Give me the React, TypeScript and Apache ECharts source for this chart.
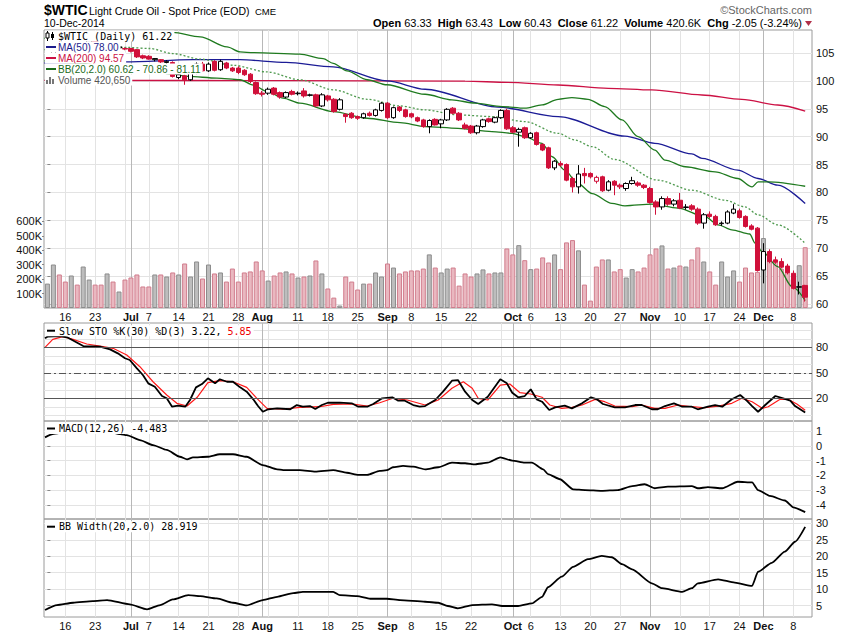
import React, { useEffect, useRef } from "react";
import * as echarts from "echarts";

// ---------- DATA ----------
const days = ["Jun 11","Jun 12","Jun 13","Jun 16","Jun 17","Jun 18","Jun 19","Jun 20","Jun 23","Jun 24","Jun 25","Jun 26","Jun 27","Jun 30","Jul 1","Jul 2","Jul 3","Jul 7","Jul 8","Jul 9","Jul 10","Jul 11","Jul 14","Jul 15","Jul 16","Jul 17","Jul 18","Jul 21","Jul 22","Jul 23","Jul 24","Jul 25","Jul 28","Jul 29","Jul 30","Jul 31","Aug 1","Aug 4","Aug 5","Aug 6","Aug 7","Aug 8","Aug 11","Aug 12","Aug 13","Aug 14","Aug 15","Aug 18","Aug 19","Aug 20","Aug 21","Aug 22","Aug 25","Aug 26","Aug 27","Aug 28","Aug 29","Sep 2","Sep 3","Sep 4","Sep 5","Sep 8","Sep 9","Sep 10","Sep 11","Sep 12","Sep 15","Sep 16","Sep 17","Sep 18","Sep 19","Sep 22","Sep 23","Sep 24","Sep 25","Sep 26","Sep 29","Sep 30","Oct 1","Oct 2","Oct 3","Oct 6","Oct 7","Oct 8","Oct 9","Oct 10","Oct 13","Oct 14","Oct 15","Oct 16","Oct 17","Oct 20","Oct 21","Oct 22","Oct 23","Oct 24","Oct 27","Oct 28","Oct 29","Oct 30","Oct 31","Nov 3","Nov 4","Nov 5","Nov 6","Nov 7","Nov 10","Nov 11","Nov 12","Nov 13","Nov 14","Nov 17","Nov 18","Nov 19","Nov 20","Nov 21","Nov 24","Nov 25","Nov 26","Nov 28","Dec 1","Dec 2","Dec 3","Dec 4","Dec 5","Dec 8","Dec 9","Dec 10"];

const openP = [104.0,104.4,106.6,106.2,106.0,106.4,106.1,106.6,107.2,106.3,
106.0,106.5,106.1,105.8,105.8,105.6,104.5,104.4,103.8,103.8,
103.3,103.3,100.6,100.9,100.2,101.4,103.0,101.8,103.5,102.0,
103.2,102.3,102.3,101.9,101.2,99.7,97.8,97.8,98.7,97.9,
97.1,98.1,97.7,98.2,97.4,97.5,95.5,97.3,96.7,94.9,
94.0,94.2,93.6,93.4,94.2,93.8,94.7,96.0,93.4,95.3,
94.8,94.1,93.4,93.0,91.8,93.1,92.3,93.0,95.1,94.2,
92.1,91.9,90.7,91.8,93.2,92.6,93.4,94.7,91.6,90.8,
91.6,89.8,90.7,88.6,88.0,84.4,85.2,85.0,82.5,81.0,
83.4,83.4,82.0,82.8,80.4,82.0,81.3,80.7,81.6,81.7,
81.3,80.7,78.3,77.4,78.9,77.9,78.6,77.3,77.6,77.0,
74.5,76.1,75.7,74.4,74.5,76.3,76.7,75.7,74.0,73.6,
66.1,69.4,67.9,67.6,66.8,65.5,63.0,63.33];

const highP = [104.8,106.8,107.3,106.8,106.8,106.7,106.9,107.5,107.3,106.6,
106.8,106.7,106.3,106.0,105.9,105.7,104.7,104.6,104.1,103.9,
103.7,103.5,101.4,101.1,101.6,103.3,103.4,103.3,103.7,103.8,
103.4,102.5,102.6,102.1,101.4,99.9,98.2,98.8,98.9,98.1,
98.1,98.4,98.1,98.7,97.7,97.7,97.8,97.5,96.9,96.9,
94.2,94.4,93.8,94.3,94.5,95.0,96.2,96.2,95.4,95.5,
95.0,94.3,93.6,93.2,93.1,93.3,93.2,95.1,95.3,94.4,
92.5,92.1,92.1,93.2,93.4,93.6,94.9,95.0,91.9,91.6,
91.8,90.8,90.9,88.8,88.2,85.8,85.6,85.2,82.8,84.9,
84.4,83.6,83.0,83.0,82.2,82.2,81.6,81.8,82.8,82.0,
81.5,81.0,78.6,79.3,79.3,78.8,79.9,77.9,77.9,77.3,
76.3,76.6,76.0,74.8,76.8,77.9,77.1,75.9,74.3,73.8,
70.9,69.8,68.5,68.2,67.2,66.0,64.0,63.43];

const lowP = [103.7,104.2,105.8,105.6,105.7,105.7,105.9,106.3,105.9,105.7,
105.6,105.6,105.4,105.5,105.1,104.1,103.9,103.8,103.5,103.2,
103.1,100.6,100.3,99.3,100.0,101.2,101.6,101.6,101.7,101.8,
102.1,101.6,101.2,100.9,99.6,97.5,97.2,97.5,97.4,96.8,
96.9,97.4,97.4,97.0,97.2,95.3,95.3,96.3,94.3,94.7,
92.5,93.2,93.0,93.2,93.6,93.6,94.5,93.2,93.2,94.4,
93.4,93.3,92.6,91.6,90.6,92.0,91.5,92.8,94.0,92.8,
91.3,90.5,90.4,91.6,92.5,92.4,93.2,91.2,90.6,88.2,
89.6,89.6,88.4,87.4,84.2,84.0,84.6,82.0,80.0,79.8,
81.6,82.5,81.6,80.1,80.2,79.5,80.6,80.3,81.4,81.0,
80.6,78.0,76.0,76.9,77.6,77.5,77.0,76.9,76.7,74.2,
73.5,75.4,74.0,74.0,74.3,76.1,75.3,73.7,73.2,65.8,
63.7,67.3,67.2,66.4,65.3,62.6,61.7,60.43];

const closeP = [104.4,106.5,106.2,106.0,106.4,106.1,106.6,107.2,106.3,106.0,
106.5,105.8,105.9,105.7,105.3,104.3,104.1,103.9,104.0,103.4,
103.5,100.8,101.1,100.2,101.4,103.0,101.8,103.0,101.9,103.5,
102.3,101.8,101.5,101.1,99.9,97.7,97.6,98.5,97.6,97.1,
97.9,97.6,97.8,97.3,97.5,95.5,97.5,96.6,94.5,96.6,
93.6,93.4,93.3,94.1,93.8,94.8,96.0,93.4,95.2,94.7,
93.6,93.55,92.8,91.8,92.9,92.1,93.0,94.9,94.2,93.0,
91.5,90.7,91.9,93.0,92.7,93.4,94.7,91.4,90.8,91.3,
89.8,90.6,88.6,87.6,84.4,85.6,84.9,82.2,81.0,83.3,
83.0,82.8,82.7,80.3,81.9,81.3,81.0,81.6,82.1,81.3,
80.9,78.2,77.4,78.9,77.9,78.5,77.2,77.4,77.0,74.5,
76.0,75.7,74.2,74.5,76.5,77.0,75.5,73.9,73.4,66.0,
69.4,67.6,67.5,66.6,65.6,62.8,63.1,61.22];

// volume in thousands
const volumeK = [169,301,232,183,225,162,287,197,162,162,
239,183,114,197,211,232,149,149,232,232,
218,246,232,308,218,322,204,301,239,246,
183,273,183,246,253,322,260,190,225,246,
253,239,211,218,225,329,239,135,72,17,
218,183,128,169,169,246,218,308,280,239,
253,260,260,273,371,280,246,273,280,155,
239,218,239,267,239,246,246,412,371,435,
331,269,273,350,315,371,269,454,470,399,
162,51,287,336,336,253,269,211,269,253,
280,371,412,433,273,280,294,287,336,419,
322,253,162,322,218,260,183,280,246,250,
484,385,336,273,250,200,296,420.65];

// indicator readings: [trading-day index, value]
const ma50Pts = [[-0.5,103.2],[13,103.4],[24.4,103.8],[32.3,103.8],[40,103.3],[47.9,102.5],[56.9,100.0],[63.3,98.5],[75.5,95.3],[85.6,93.6],[96.8,90.1],[101.8,88.8],[108,86.9],[109.7,86.1],[115.7,84.0],[119.1,82.5],[122.4,81.3],[127,78.0]];
const ma200Pts = [[-0.5,100.1],[40,100.05],[70,99.95],[77.2,99.74],[85.6,99.26],[94,98.67],[101.3,98.37],[109.7,97.47],[116.4,96.69],[122.4,95.67],[127,94.57]];
const bbUpperPts = [[-0.5,107.6],[5,108.4],[10,108.8],[21,108.7],[25.6,107.9],[30.1,106.1],[32.3,105.2],[34.5,105.05],[42.3,104.8],[46.2,104.0],[47.9,103.15],[50.2,101.8],[53.6,100.2],[56.9,99.3],[63.3,97.6],[67.8,96.6],[71.7,96.0],[76.2,95.4],[80,95.1],[82.9,95.7],[85.6,96.7],[87.9,97.0],[90.6,96.7],[93.4,95.4],[96.3,93.0],[99,90.0],[101.8,87.6],[103.5,85.8],[106.9,84.6],[111.9,83.7],[115.7,82.5],[118.1,81.0],[119.1,81.9],[120.8,81.9],[127,81.11]];
const bbMidPts = [[-0.5,105.6],[13.3,106.0],[17.2,105.8],[21,104.9],[25.6,103.9],[31.1,102.8],[36.8,101.6],[42.3,100.2],[47.9,98.4],[53.6,96.7],[59.1,95.5],[63.3,94.8],[68.8,93.9],[74.5,93.6],[80,92.7],[85.6,90.6],[88.4,89.4],[91.3,88.2],[95.1,85.9],[102.3,82.2],[108,80.4],[113.6,78.6],[116.9,77.4],[119.1,76.0],[122.4,74.2],[127,70.86]];
const bbLowerPts = [[-0.5,103.6],[5,103.2],[10,102.6],[16,102.0],[21,101.2],[23.6,100.8],[28.4,100.5],[32.3,100.2],[34.5,99.26],[36.8,98.1],[39.5,96.9],[42.3,96.0],[47.9,94.5],[53.6,93.3],[59.1,92.5],[63.3,91.8],[68.8,91.5],[74.5,90.9],[77.9,90.6],[80,90.0],[82.9,88.8],[84.6,86.4],[86.7,84.0],[88.9,81.6],[91.3,79.8],[94.6,78.05],[96.8,77.6],[101.3,77.9],[105.7,77.2],[110.2,75.65],[112.4,74.2],[114.7,73.3],[117.7,72.55],[118.6,70.9],[119.8,69.4],[122.4,66.7],[124.8,63.1],[127,60.62]];

const stoKPts = [[-0.4,90.6],[0,92.5],[2.1,93.3],[3.3,91.8],[5,85.4],[6,81.5],[8.8,80.7],[10.5,77.6],[11.8,72.9],[13,67.1],[13.8,65.1],[15,55.3],[16,47.4],[16.9,37.6],[18,33.6],[19.2,22.7],[20,20],[20.9,10.1],[21.9,11.3],[23.1,10.1],[23.9,18],[24.9,32.9],[25.9,36.8],[26.9,43.5],[28.1,37.6],[28.9,42.4],[30.1,39.5],[31.1,39.5],[32.3,32.9],[33.4,27.8],[34.5,18.8],[35.3,10.9],[36.1,4.2],[37,7.1],[38.5,8.2],[40.7,7.1],[41.8,12.1],[42.8,10.1],[44,10.9],[44.9,7.4],[46,12.1],[47,14.8],[49,14.8],[51,14.1],[52.1,10.1],[53.6,10.1],[54.6,13.3],[56.1,20],[57.8,21.2],[58.8,17.2],[59.9,17.2],[61.3,12.1],[62.4,10.1],[63.3,10.9],[65,18],[66.3,27.8],[67.8,40.7],[68.8,41.5],[70,27.8],[71.2,18],[72.2,13.3],[73.8,21.9],[75.9,42.4],[77,37.6],[77.9,26.6],[78.9,21.2],[80,22.7],[81,30.6],[82,18.8],[82.9,16],[84.1,6.2],[85.1,9.4],[86.7,11.3],[87.9,8.2],[89.6,14.1],[91.1,21.2],[92.1,18.8],[93.1,13.3],[95.1,9.4],[96.8,9.4],[98.5,12.1],[99.6,12.1],[101.3,7.1],[102.3,7.1],[103.5,10.9],[105,14.1],[106.4,10.1],[108,10.1],[109,7.1],[110.7,10.1],[111.9,12.1],[113.1,10.1],[114.7,18.8],[116.1,23.9],[117.2,17.2],[118.1,10.9],[119.1,4.2],[120.3,12.1],[122,22.7],[123.3,20],[124.5,17.2],[125.3,10.9],[127,3.22]];
const stoDPts = [[-0.4,80],[0.9,89.4],[2.6,92.5],[4.3,89.4],[6.6,83.9],[8.8,81.5],[11,78.8],[13.3,70.9],[15.5,57.2],[17.7,39.5],[20,23.9],[21.7,14.1],[23.4,10.9],[25.1,21.2],[26.9,38.4],[28.9,40.7],[31.1,39.5],[33.4,32.9],[35.1,20],[36.8,8.2],[39.5,7.1],[42.3,9.4],[45.7,10.1],[47.9,12.9],[51.2,13.3],[53.6,10.9],[55.7,14.8],[57.9,20],[60.3,18],[63.3,12.1],[65.5,18],[67.8,31.8],[69.7,39.5],[71.2,31.8],[72.2,20],[73.8,18],[75.9,35.6],[77.5,36.8],[79.2,26.6],[81,25.1],[82.9,21.2],[84.2,12.1],[86.2,8.2],[87.9,9.4],[89.6,12.1],[91.8,18.8],[93.4,16],[95.1,10.9],[98,10.1],[99.6,12.1],[101.8,8.2],[103.5,8.2],[105.7,12.1],[108,10.1],[110.2,8.9],[112.4,10.9],[114.7,14.1],[116.4,20],[118.1,16],[119.8,8.2],[120.8,10.1],[122.8,18.8],[124.1,18.8],[125.6,13.3],[127,5.85]];
const macdPts = [[-0.4,0.57],[0.9,0.8],[3.3,0.95],[6.6,1.0],[10,1.0],[12.2,0.8],[13.3,0.73],[15.5,0.39],[17.7,0.05],[20,-0.28],[22.2,-0.74],[23.4,-0.91],[24.4,-0.78],[26.8,-0.74],[28.9,-0.57],[31.1,-0.57],[33.4,-0.74],[36.1,-1.3],[38.5,-1.59],[39.5,-1.64],[42.3,-1.64],[44.9,-1.75],[47.9,-1.64],[50.2,-1.82],[52.1,-1.97],[53.6,-1.97],[55.7,-1.7],[56.9,-1.64],[57.9,-1.45],[59.6,-1.36],[61.3,-1.41],[63.3,-1.59],[65.5,-1.45],[67.8,-1.14],[70,-1.18],[71.7,-1.25],[73.8,-1.14],[75.9,-0.78],[77.9,-1.0],[80,-1.14],[81.2,-1.14],[83.1,-1.59],[83.9,-1.91],[85.9,-2.26],[88.1,-2.94],[90.1,-2.99],[92.9,-3.05],[95.6,-2.99],[98,-2.72],[100.1,-2.6],[101.8,-2.87],[104,-2.76],[108,-2.72],[109,-2.87],[110.7,-2.8],[113.1,-2.87],[115.7,-2.43],[118.1,-2.47],[119.1,-2.99],[121.1,-3.39],[123.6,-3.7],[125,-4.16],[127,-4.483]];
const bbwPts = [[-0.4,3.7],[1.6,5.2],[4.3,5.9],[7.6,6.4],[10,6.7],[13.8,5.4],[16.7,3.9],[18.9,5.2],[21,6.9],[23.6,8.2],[25.6,7.9],[28.4,7.2],[31.1,5.9],[33.4,5.1],[36.1,6.7],[38.5,7.7],[41.2,8.8],[42.8,9.2],[46.2,9.2],[47.9,9.2],[49,8.2],[51.9,7.9],[54.1,7.1],[56.9,7.1],[59.1,6.7],[63.3,6.2],[65.5,5.9],[67.1,4.9],[68.8,4.2],[71.2,5.2],[74.5,5.4],[76.2,4.9],[78.9,4.9],[81.2,5.7],[82.9,7.7],[83.9,10.6],[86.2,13.8],[88.1,16.8],[90.6,19.1],[92.9,20.1],[94.6,19.7],[96.3,17.6],[98,16.0],[101.3,11.8],[103,10.3],[106.4,9.2],[108,10.3],[109,11.8],[112.4,13.0],[115.2,12.0],[118.1,11.0],[119.1,15.3],[121.4,18.0],[123.6,21.4],[125.3,24.4],[127,28.9]];

// axis ticks / labels
const xLabelIdx = [3,8,14,17,22,27,32,36,42,47,52,57,61,66,71,78,81,86,91,96,101,106,111,116,120,125];
const xLabelText = ["16","23","Jul","7","14","21","28","Aug","11","18","25","Sep","8","15","22","Oct","6","13","20","27","Nov","10","17","24","Dec","8"];
const weekLineIdx = [3,8,13,17,22,27,32,37,42,47,52,61,66,71,76,81,86,91,96,101,106,111,116,120,125];
const monthLineIdx = [14,36,57,78,101,120];
const priceTicks = [60,65,70,75,80,85,90,95,100,105];
const volumeTicks = [100,200,300,400,500,600];
const stoLabels = [20,50,80];
const stoGridLines = [0,10,20,30,40,50,60,70,80,90,100];
const stoRefSolid = [80,20];
const stoRefDash = [50];
const macdTicks = [-4,-3,-2,-1,0,1];
const bbwTicks = [5,10,15,20,25,30];

// ---------- STYLE ----------
const FONT = '"Liberation Sans", Arial, Helvetica, sans-serif';
const MONO = '"DejaVu Sans Mono", monospace';
const RED = "#d0103a";
const X_MIN = -0.57;
const X_MAX = 128.14;

function buildOption() {
  const vTicks = Array.from(new Set([...weekLineIdx, ...monthLineIdx])).sort((a, b) => a - b);
  const vColors = vTicks.map((t) => (monthLineIdx.includes(t) ? "#b8b8b8" : "#e3e3e3"));
  const labelMap: Record<number, string> = {};
  xLabelIdx.forEach((d, k) => (labelMap[d] = xLabelText[k]));
  const fmtDay = (v: number) => {
    const t = labelMap[Math.round(v)];
    if (!t) return "";
    return /^[A-Za-z]/.test(t) ? `{b|${t}}` : t;
  };

  const candleData = openP.map((o, i) => {
    const c = closeP[i];
    const prev = i > 0 ? closeP[i - 1] : o;
    const up = c >= prev;
    const col = up ? "#000000" : RED;
    const fill = c > o ? "#ffffff" : col;
    return {
      value: [i, o, c, lowP[i], highP[i]],
      itemStyle: { color: fill, color0: fill, borderColor: col, borderColor0: col, borderColorDoji: col, borderWidth: 1 },
    };
  });

  const volData = volumeK.map((v, i) => {
    const up = i === 0 || closeP[i] >= closeP[i - 1];
    return {
      value: [i, v],
      itemStyle: up
        ? { color: "#bdbdbd", borderColor: "#8c8c8c", borderWidth: 1 }
        : { color: "#e9b8c0", borderColor: "#d17c8c", borderWidth: 1 },
    };
  });

  const grids = [
    { left: 44, top: 30, width: 768, height: 278 },
    { left: 44, top: 323, width: 768, height: 98 },
    { left: 44, top: 421, width: 768, height: 98 },
    { left: 44, top: 519, width: 768, height: 98 },
  ].map((g) => ({ ...g, show: true, borderColor: "#9a9a9a", borderWidth: 1, backgroundColor: "transparent" }));

  const xAxes = [0, 1, 2, 3].map((g) => ({
    type: "value",
    gridIndex: g,
    min: X_MIN,
    max: X_MAX,
    axisLine: { show: false },
    axisTick: { show: false, customValues: vTicks },
    axisLabel:
      g === 0 || g === 3
        ? {
            show: true,
            customValues: xLabelIdx,
            formatter: fmtDay,
            margin: 3,
            fontSize: 11,
            color: "#111",
            fontFamily: FONT,
            rich: { b: { fontWeight: "bold", fontSize: 11, color: "#111", fontFamily: FONT } },
          }
        : { show: false },
    splitLine: { show: true, lineStyle: { color: vColors, width: 1 } },
  }));

  const rightAxis = (gridIndex: number, min: number, max: number, ticks: number[], labels: number[], showTick: boolean) => ({
    type: "value",
    gridIndex,
    position: "right",
    min,
    max,
    axisLine: { show: false },
    axisTick: { show: showTick, length: 3, customValues: ticks, lineStyle: { color: "#888" } },
    axisLabel: { customValues: labels, margin: 4, fontSize: 11, color: "#111", fontFamily: FONT },
    splitLine: { show: true, lineStyle: { color: "#e3e3e3", width: 1 } },
  });

  const yAxes = [
    rightAxis(0, 59.28, 109.12, priceTicks, priceTicks, true),
    {
      type: "value",
      gridIndex: 0,
      position: "left",
      min: 0,
      max: 1924,
      axisLine: { show: false },
      axisTick: { show: true, length: 2, customValues: volumeTicks, lineStyle: { color: "#888" } },
      axisLabel: { customValues: volumeTicks, margin: 2, fontSize: 11, color: "#111", fontFamily: FONT, formatter: (v: number) => v + "K" },
      splitLine: { show: false },
    },
    rightAxis(1, -6.7, 108.6, stoGridLines, stoLabels, false),
    rightAxis(2, -4.95, 1.68, macdTicks, macdTicks, true),
    rightAxis(3, 1.57, 31.3, bbwTicks, bbwTicks, true),
  ];

  const line = (data: number[][], xi: number, yi: number, color: string, width: number, extra: any = {}) => ({
    type: "line",
    xAxisIndex: xi,
    yAxisIndex: yi,
    data,
    symbol: "none",
    showSymbol: false,
    silent: true,
    z: 4,
    lineStyle: { color, width, ...(extra.lineStyle || {}) },
    ...(extra.smooth !== undefined ? { smooth: extra.smooth, smoothMonotone: "x" } : {}),
    ...(extra.markLine ? { markLine: extra.markLine } : {}),
  });

  const series: any[] = [
    { type: "bar", xAxisIndex: 0, yAxisIndex: 1, data: volData, barWidth: 5, silent: true, z: 1 },
    line(ma200Pts, 0, 0, "#cc1144", 1.3, { smooth: 0.3 }),
    line(ma50Pts, 0, 0, "#1c1c96", 1.3, { smooth: 0.3 }),
    line(bbUpperPts, 0, 0, "#1f7a1f", 1.3, { smooth: 0.3 }),
    line(bbLowerPts, 0, 0, "#1f7a1f", 1.3, { smooth: 0.3 }),
    line(bbMidPts, 0, 0, "#4f9a4f", 1.3, { smooth: 0.3, lineStyle: { type: [2, 2] } }),
    {
      type: "candlestick",
      xAxisIndex: 0,
      yAxisIndex: 0,
      data: candleData,
      barWidth: 5,
      silent: true,
      z: 5,
    },
    line(stoDPts, 1, 2, "#ff1a1a", 1.2, {
      markLine: {
        silent: true,
        symbol: "none",
        label: { show: false },
        data: [
          ...stoRefSolid.map((v) => ({ yAxis: v, lineStyle: { color: "#555", type: "solid", width: 1 } })),
          ...stoRefDash.map((v) => ({ yAxis: v, lineStyle: { color: "#555", type: [7, 3, 2, 3], width: 1 } })),
        ],
      },
    }),
    line(stoKPts, 1, 2, "#000", 1.8),
    line(macdPts, 2, 3, "#000", 1.8, { smooth: 0.2 }),
    line(bbwPts, 3, 4, "#000", 1.8, { smooth: 0.2 }),
  ];

  const txt = (x: number, y: number, style: any, z = 60) => ({
    type: "text",
    x,
    y,
    z,
    silent: true,
    style: { verticalAlign: "middle", textVerticalAlign: "middle", ...style },
  });

  const legendRow = (y: number, text: string, family: string, size: number, fill: string) =>
    txt(45, y, { text, fontFamily: family, fontSize: size, fill, backgroundColor: "#fff", padding: [1, 2, 0, 13] });

  const gLine = (x1: number, y: number, x2: number, color: string, w = 2) => ({
    type: "line",
    z: 70,
    silent: true,
    shape: { x1, y1: y, x2, y2: y },
    style: { stroke: color, lineWidth: w },
  });

  const graphics: any[] = [
    txt(44, 10, { text: "$WTIC", fontFamily: FONT, fontSize: 14, fontWeight: "bold", fill: "#000" }),
    txt(89, 10.5, { text: "Light Crude Oil - Spot Price (EOD)", fontFamily: FONT, fontSize: 10.5, fill: "#000" }),
    txt(255, 11, { text: "CME", fontFamily: FONT, fontSize: 9.5, fill: "#000" }),
    txt(44, 23, { text: "10-Dec-2014", fontFamily: FONT, fontSize: 10.5, fill: "#000" }),
    txt(802, 23, {
      text: "{b|Open} 63.33  {b|High} 63.43  {b|Low} 60.43  {b|Close} 61.22  {b|Volume} 420.6K  {b|Chg} -2.05 (-3.24%)",
      fontFamily: FONT,
      fontSize: 11,
      fill: "#000",
      align: "right",
      textAlign: "right",
      rich: { b: { fontFamily: FONT, fontSize: 11, fontWeight: "bold", fill: "#000" } },
    }),
    {
      type: "polygon",
      z: 60,
      silent: true,
      shape: { points: [[805, 21], [812, 21], [808.5, 26]] },
      style: { fill: "#b0304a" },
    },
    txt(812, 10, { text: "\u00A9StockCharts.com", fontFamily: FONT, fontSize: 11, fill: "#666", align: "right", textAlign: "right" }),

    // price panel legend
    legendRow(36, "$WTIC (Daily) 61.22", MONO, 10, "#000"),
    legendRow(47, "MA(50) 78.00", FONT, 10, "#1c1c8c"),
    legendRow(58, "MA(200) 94.57", FONT, 10, "#cc1144"),
    legendRow(69, "BB(20,2.0) 60.62 - 70.86 - 81.11", FONT, 10, "#1a6b1a"),
    legendRow(80, "Volume 420,650", FONT, 10, "#555"),
    { type: "line", z: 70, silent: true, shape: { x1: 47.5, y1: 31, x2: 47.5, y2: 41 }, style: { stroke: "#000", lineWidth: 1 } },
    { type: "rect", z: 71, silent: true, shape: { x: 46, y: 33, width: 3, height: 5 }, style: { fill: "#fff", stroke: "#000", lineWidth: 1 } },
    { type: "line", z: 70, silent: true, shape: { x1: 52.5, y1: 32, x2: 52.5, y2: 40 }, style: { stroke: "#000", lineWidth: 1 } },
    { type: "rect", z: 71, silent: true, shape: { x: 51, y: 34, width: 3, height: 4 }, style: { fill: "#000" } },
    gLine(46, 47, 56, "#1c1c8c"),
    gLine(46, 58, 56, "#cc1144"),
    gLine(46, 69, 56, "#1a6b1a"),
    { type: "rect", z: 70, silent: true, shape: { x: 46, y: 80, width: 2, height: 4 }, style: { fill: "#777" } },
    { type: "rect", z: 70, silent: true, shape: { x: 49, y: 77, width: 2, height: 7 }, style: { fill: "#777" } },
    { type: "rect", z: 70, silent: true, shape: { x: 52, y: 79, width: 2, height: 5 }, style: { fill: "#777" } },

    // lower panel legends
    txt(45, 330.7, {
      text: "{k|Slow STO %K(30) %D(3) 3.22, }{d|5.85}",
      fontFamily: MONO,
      fontSize: 10,
      fill: "#000",
      backgroundColor: "#fff",
      padding: [1, 2, 0, 14],
      rich: { k: { fontFamily: MONO, fontSize: 10, fill: "#000" }, d: { fontFamily: MONO, fontSize: 10, fill: "#ee0000" } },
    }),
    gLine(47, 330.7, 55, "#000"),
    txt(45, 428.5, { text: "MACD(12,26) -4.483", fontFamily: MONO, fontSize: 10, fill: "#000", backgroundColor: "#fff", padding: [1, 2, 0, 14] }),
    gLine(47, 428.5, 55, "#000"),
    txt(45, 526.7, { text: "BB Width(20,2.0) 28.919", fontFamily: MONO, fontSize: 10, fill: "#000", backgroundColor: "#fff", padding: [1, 2, 0, 14] }),
    gLine(47, 526.7, 55, "#000"),
  ];

  return {
    animation: false,
    backgroundColor: "#ffffff",
    textStyle: { fontFamily: FONT },
    grid: grids,
    xAxis: xAxes,
    yAxis: yAxes,
    series,
    graphic: { elements: graphics },
  };
}

export default function App() {
  const ref = useRef<HTMLDivElement>(null);
  useEffect(() => {
    if (!ref.current) return;
    const chart = echarts.init(ref.current, null, { renderer: "svg" });
    chart.setOption(buildOption() as any);
    return () => chart.dispose();
  }, []);
  return (
    <div
      ref={ref}
      style={{ position: "absolute", left: 0, top: 0, width: 850, height: 633, background: "#fff" }}
      data-days={days.length}
    />
  );
}
